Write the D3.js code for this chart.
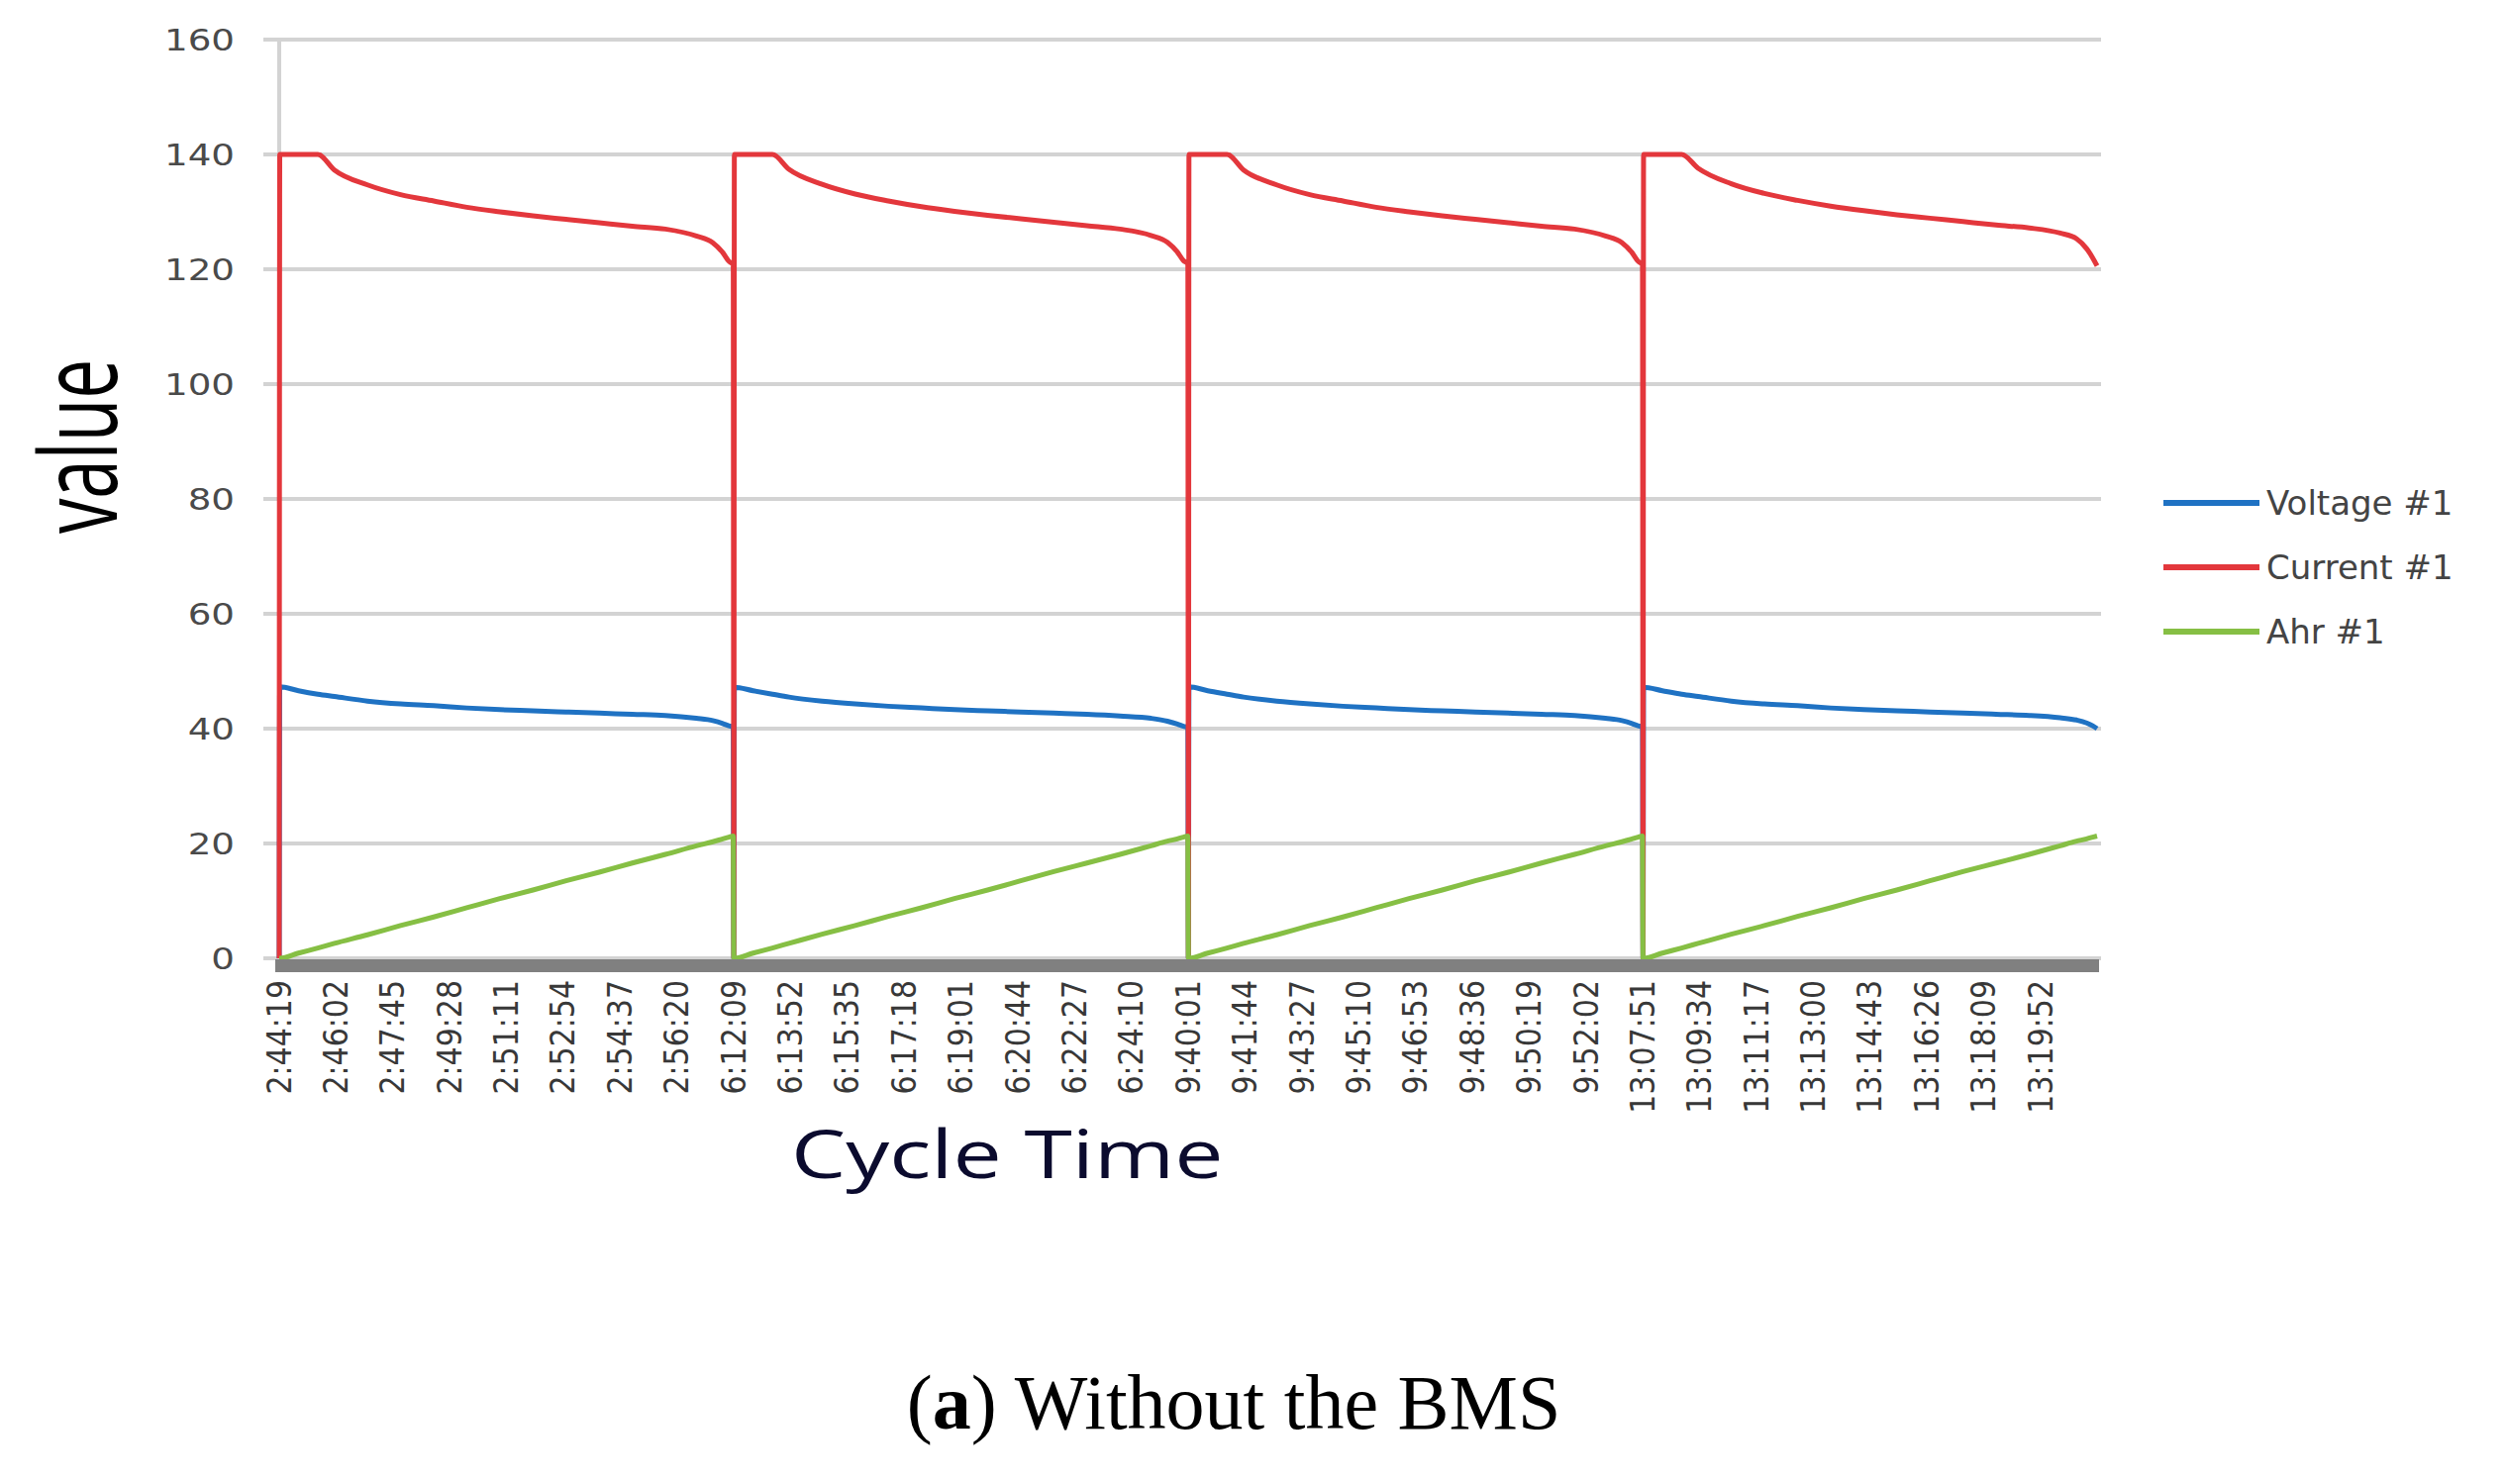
<!DOCTYPE html>
<html><head><meta charset="utf-8">
<script src="https://cdn.jsdelivr.net/npm/d3@7"></script>
<style>html,body{margin:0;padding:0;background:#fff;} svg{display:block;}</style>
</head><body>
<script>
// ---- data (row index of the logged samples; 1 row = 1 s, four charge cycles) ----
const sampleIndex = [
  0,1,35,70,100,160,220,280,340,400,460,520,580,640,700,756,786,804,815,823,
  824,825,859,894,924,984,1044,1104,1164,1224,1284,1344,1404,1464,1524,1580,1610,1628,1639,1647,
  1648,1649,1683,1718,1748,1808,1868,1928,1988,2048,2108,2168,2228,2288,2348,2404,2434,2452,2463,2471,
  2472,2473,2507,2542,2572,2632,2692,2752,2812,2872,2932,2992,3052,3112,3172,3228,3258,3276,3287,3295
];
const voltage = [
  0,47.3,46.6,46.0,45.6,44.8,44.3,44.0,43.6,43.3,43.1,42.9,42.7,42.5,42.3,41.8,41.4,40.9,40.5,40.3,
  0,47.2,46.6,46.0,45.5,44.8,44.3,43.9,43.6,43.3,43.1,42.9,42.7,42.5,42.2,41.8,41.3,40.8,40.4,40.2,
  0,47.3,46.6,46.0,45.5,44.8,44.3,43.9,43.6,43.3,43.1,42.9,42.7,42.5,42.3,41.8,41.4,40.9,40.5,40.3,
  0,47.2,46.6,46.0,45.6,44.8,44.3,44.0,43.6,43.3,43.1,42.9,42.7,42.5,42.3,41.9,41.5,41.0,40.5,40.0
];
const current = [
  0,140,140,140,137.3,134.7,133.0,131.9,130.8,130.0,129.3,128.7,128.1,127.5,127.0,125.8,124.6,122.9,121.4,120.8,
  0,140,140,140,137.4,134.8,133.1,131.9,130.9,130.1,129.4,128.8,128.2,127.6,127.0,125.9,124.7,123.0,121.5,120.9,
  0,140,140,140,137.3,134.7,133.0,131.9,130.8,130.0,129.3,128.7,128.1,127.5,127.0,125.8,124.6,122.9,121.4,120.8,
  0,140,140,140,137.6,134.9,133.2,132.0,131.0,130.2,129.5,128.9,128.3,127.7,127.2,126.3,125.3,123.6,122.0,120.6
];
const ahr = [
  0,0,0.9,1.8,2.6,4.1,5.7,7.2,8.8,10.4,11.9,13.5,15.0,16.6,18.1,19.6,20.3,20.8,21.1,21.3,
  0,0,0.9,1.8,2.6,4.2,5.7,7.3,8.8,10.4,11.9,13.5,15.1,16.6,18.1,19.6,20.4,20.8,21.1,21.3,
  0,0,0.9,1.8,2.6,4.1,5.7,7.2,8.8,10.4,11.9,13.5,15.0,16.6,18.1,19.6,20.3,20.8,21.1,21.3,
  0,0,0.9,1.8,2.6,4.2,5.7,7.3,8.8,10.4,11.9,13.5,15.1,16.6,18.1,19.6,20.4,20.8,21.1,21.3
];
const tickIndex = [0,103,206,309,412,515,618,721,824,927,1030,1133,1236,1339,1442,1545,
  1648,1751,1854,1957,2060,2163,2266,2369,2472,2575,2678,2781,2884,2987,3090,3193];
const tickLabels = ["2:44:19","2:46:02","2:47:45","2:49:28","2:51:11","2:52:54","2:54:37","2:56:20",
  "6:12:09","6:13:52","6:15:35","6:17:18","6:19:01","6:20:44","6:22:27","6:24:10",
  "9:40:01","9:41:44","9:43:27","9:45:10","9:46:53","9:48:36","9:50:19","9:52:02",
  "13:07:51","13:09:34","13:11:17","13:13:00","13:14:43","13:16:26","13:18:09","13:19:52"];
const yTicks = [0,20,40,60,80,100,120,140,160];
const seriesNames = ["Voltage #1","Current #1","Ahr #1"];
const seriesValues = [voltage, current, ahr];
const seriesColors = ["#1f72c3","#e3373c","#86bf44"];

// ---- drawing ----
const W = 2531, H = 1499;
const svg = d3.select("body").append("svg").attr("width", W).attr("height", H)
  .style("background", "#fff");

const x = d3.scaleLinear().domain([0, 3295]).range([282, 2118]);
const y = d3.scaleLinear().domain([0, 160]).range([968, 40]);

// gridlines
svg.append("g").selectAll("line").data(yTicks).join("line")
  .attr("x1", 266).attr("x2", 2122)
  .attr("y1", d => y(d)).attr("y2", d => y(d))
  .attr("stroke", "#d3d3d3").attr("stroke-width", 4);

// vertical axis line
svg.append("line").attr("x1", x(0)).attr("x2", x(0))
  .attr("y1", y(160)).attr("y2", y(0))
  .attr("stroke", "#d3d3d3").attr("stroke-width", 4);

// y tick labels
svg.append("g").selectAll("text").data(yTicks).join("text")
  .attr("transform", d => `translate(237,${y(d)}) scale(1.2,1)`)
  .attr("text-anchor", "end").attr("dominant-baseline", "central")
  .attr("font-family", "DejaVu Sans").attr("font-size", 31)
  .attr("fill", "#4a4a4a").text(d => d);

// series lines
const rows = sampleIndex.map((s, i) => i);
seriesValues.forEach((vals, k) => {
  const line = d3.line()
    .x(i => x(sampleIndex[i])).y(i => y(vals[i]))
    .curve(d3.curveMonotoneX);
  svg.append("path").attr("d", line(rows))
    .attr("fill", "none").attr("stroke", seriesColors[k])
    .attr("stroke-width", 5).attr("stroke-linejoin", "round");
});

// x axis bar
svg.append("line").attr("x1", 278).attr("x2", 2120)
  .attr("y1", 975.5).attr("y2", 975.5)
  .attr("stroke", "#808080").attr("stroke-width", 13);

// x tick labels
svg.append("g").selectAll("text").data(tickIndex).join("text")
  .attr("transform", d => `translate(${x(d)},990) rotate(-90) scale(1,1.1)`)
  .attr("text-anchor", "end").attr("dominant-baseline", "central")
  .attr("font-family", "DejaVu Sans").attr("font-size", 30)
  .attr("fill", "#383838").text((d, i) => tickLabels[i]);

// axis titles
svg.append("text")
  .attr("transform", "translate(118,451) rotate(-90) scale(0.71,1.08)")
  .attr("text-anchor", "middle")
  .attr("font-family", "Open Sans").attr("font-size", 100)
  .attr("fill", "#000").text("value");

svg.append("text")
  .attr("transform", "translate(799,1190) scale(1.31,1)")
  .attr("font-family", "Open Sans").attr("font-size", 67)
  .attr("fill", "#0b0b2e").text("Cycle Time");

// legend
const lg = svg.append("g").selectAll("g").data(seriesNames).join("g")
  .attr("transform", (d, i) => `translate(0,${508 + i * 65})`);
lg.append("line").attr("x1", 2185).attr("x2", 2282)
  .attr("stroke", (d, i) => seriesColors[i]).attr("stroke-width", 6);
lg.append("text").attr("x", 2289).attr("y", 0)
  .attr("dominant-baseline", "central")
  .attr("font-family", "DejaVu Sans").attr("font-size", 34)
  .attr("fill", "#444").text(d => d);

// caption
const cap = svg.append("text").attr("x", 1246).attr("y", 1443)
  .attr("text-anchor", "middle")
  .attr("font-family", "Liberation Serif").attr("font-size", 78).attr("fill", "#000");
cap.append("tspan").text("(");
cap.append("tspan").attr("font-weight", "bold").text("a");
cap.append("tspan").text(") Without the BMS");
</script>
</body></html>
